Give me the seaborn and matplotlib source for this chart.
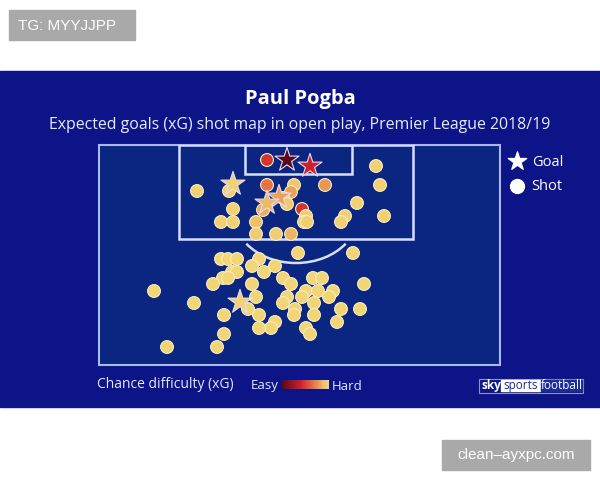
import numpy as np
import pandas as pd
import matplotlib
matplotlib.use("Agg")
import matplotlib.pyplot as plt
import seaborn as sns
from matplotlib.patches import Rectangle, Arc
from matplotlib.colors import LinearSegmentedColormap, Normalize

sns.set_theme(style="white")
plt.rcParams["font.family"] = ["Open Sans", "DejaVu Sans"]

# ---------------- data (pitch units: x across, y distance from goal line) ----------------
goal_x = [188, 211, 134, 180, 168, 141]
goal_y = [15, 21, 39, 52, 58, 157]
goal_xg = [0.75, 0.45, 0.03, 0.15, 0.10, 0.03]

shot_x = [168, 98, 130, 168, 195, 192, 226, 184, 188, 164, 203, 207, 205, 208,
          134, 122, 134, 157, 157, 177, 192, 277, 281, 258, 285, 246, 242,
          199, 254, 122, 129, 138, 160, 153, 176, 165, 133, 138, 124, 129,
          114, 153, 184, 192, 214, 223, 265, 207, 219, 234, 203, 188, 230,
          157, 55, 95, 184, 215, 149, 196, 242, 261, 125, 160, 195, 215,
          238, 176, 172, 160, 207, 211, 125, 68, 118]
shot_y = [15, 46, 46, 40, 40, 47, 40, 53, 59, 65, 64, 71, 77, 77,
          64, 77, 77, 77, 89, 89, 89, 21, 40, 58, 71, 71, 77,
          108, 108, 114, 114, 114, 114, 121, 121, 127, 127, 127, 133, 133,
          139, 139, 133, 139, 133, 133, 139, 146, 146, 146, 152, 152, 152,
          152, 146, 158, 158, 158, 164, 164, 164, 164, 170, 170, 170, 170,
          177, 177, 183, 183, 183, 189, 189, 202, 202]
shot_xg = [0.40, 0.03, 0.04, 0.25, 0.07, 0.15, 0.17, 0.08, 0.06, 0.13, 0.40, 0.04, 0.04, 0.04,
           0.03, 0.03, 0.03, 0.09, 0.05, 0.04, 0.11, 0.03, 0.03, 0.03, 0.03, 0.03, 0.03] + [0.02] * 48

PITCH_W, PITCH_H = 401, 220
BOX = (80, 0, 234, 94)
SIX = (146, 0, 107, 29)

df = pd.DataFrame({
    "x": goal_x + shot_x,
    "y": goal_y + shot_y,
    "xg": goal_xg + shot_xg,
    "outcome": ["Goal"] * len(goal_x) + ["Shot"] * len(shot_x),
})

cmap = LinearSegmentedColormap.from_list(
    "xg", [(0.0, "#f3da78"), (0.12, "#efbf68"), (0.25, "#e8904e"),
           (0.4, "#e0603a"), (0.6, "#d0202a"), (1.0, "#5c0818")])
norm = Normalize(0.0, 0.75)

# ---------------- figure ----------------
fig = plt.figure(figsize=(6, 4.8), dpi=100, facecolor="white")
bg = fig.add_axes([0, 0, 1, 1])
bg.set_xlim(0, 600)
bg.set_ylim(480, 0)
bg.axis("off")

PANEL = "#0c1488"
PITCH = "#0a2680"
LINE = "#d6def8"

bg.add_patch(Rectangle((0, 71), 600, 336, color=PANEL, zorder=0))
bg.add_patch(Rectangle((9, 10), 126, 30, color="#a9a9a9", zorder=1))
bg.text(18, 25.5, "TG: MYYJJPP", color="white", fontsize=11, va="center",
        ha="left", family=["Liberation Sans", "DejaVu Sans"])
bg.add_patch(Rectangle((442, 440), 148, 30, color="#a9a9a9", zorder=1))
bg.text(516, 455.5, "clean\u2013ayxpc.com", color="white", fontsize=11, va="center",
        ha="center", family=["Liberation Sans", "DejaVu Sans"])

bg.text(300, 99, "Paul Pogba", color="white", fontsize=14.5, fontweight="bold",
        ha="center", va="center")
bg.text(300, 125, "Expected goals (xG) shot map in open play, Premier League 2018/19",
        color="#e8ecff", fontsize=11.4, ha="center", va="center")

# legend
bg.scatter([517], [160.5], marker="*", s=190, color="white", zorder=3)
bg.scatter([517], [186], marker="o", s=100, color="white", zorder=3)
bg.text(532, 162, "Goal", color="white", fontsize=10.5, va="center", ha="left")
bg.text(531, 187, "Shot", color="white", fontsize=10.5, va="center", ha="left")

# bottom key
bg.text(97, 384, "Chance difficulty (xG)", color="#e4e8ff", fontsize=10, va="center", ha="left")
bg.text(251, 386, "Easy", color="#e4e8ff", fontsize=9.5, va="center", ha="left")
bg.text(332, 386, "Hard", color="#e4e8ff", fontsize=9.5, va="center", ha="left")
cax = fig.add_axes([282 / 600, 1 - 389 / 480, 47 / 600, 9 / 480])
cax.imshow(np.linspace(1, 0, 256)[None, :], aspect="auto", cmap=cmap)
cax.axis("off")

# logo
bg.add_patch(Rectangle((479, 378.5), 104, 14, facecolor="none", edgecolor="#8c94c8", lw=0.8, zorder=2))
bg.text(481, 385.5, "sky", color="white", fontsize=8.5, fontweight="bold", va="center", ha="left")
bg.add_patch(Rectangle((501, 380), 39, 11, color="white", zorder=2))
bg.text(520.5, 385.5, "sports", color="#1a2a8a", fontsize=8.5, va="center", ha="center", zorder=3)
bg.add_patch(Rectangle((541, 380), 41, 11, color="#1a2c9c", zorder=2))
bg.text(561.5, 385.5, "football", color="white", fontsize=8.5, va="center", ha="center", zorder=3)

# ---------------- pitch ----------------
ax = fig.add_axes([99 / 600, 1 - 365 / 480, 401 / 600, 220 / 480])
ax.set_facecolor(PITCH)
ax.set_xlim(0, PITCH_W)
ax.set_ylim(PITCH_H, 0)
ax.set_xticks([])
ax.set_yticks([])
for s in ax.spines.values():
    s.set_visible(False)
ax.add_patch(Rectangle((0, 0), PITCH_W, PITCH_H, fill=False, edgecolor="#aab8ee", lw=1.5, zorder=1, clip_on=False))
ax.add_patch(Rectangle(BOX[:2], BOX[2], BOX[3], fill=False, edgecolor=LINE, lw=1.8, zorder=1))
ax.add_patch(Rectangle(SIX[:2], SIX[2], SIX[3], fill=False, edgecolor=LINE, lw=1.8, zorder=1))
ax.add_patch(Arc((197, 70), 124, 96, theta1=30, theta2=150, edgecolor=LINE, lw=1.8, zorder=1))

shots = df[df.outcome == "Shot"]
goals = df[df.outcome == "Goal"]
sns.scatterplot(data=shots, x="x", y="y", hue="xg", palette=cmap, hue_norm=norm,
                marker="o", s=85, edgecolor="#f7ecc4", linewidth=0.8, legend=False, ax=ax, zorder=3)
sns.scatterplot(data=goals, x="x", y="y", hue="xg", palette=cmap, hue_norm=norm,
                marker="*", s=330, edgecolor="#e6dcf4", linewidth=0.8, legend=False, ax=ax, zorder=4)
ax.set_xlabel("")
ax.set_ylabel("")

fig.savefig("out.png", dpi=100, facecolor="white")
